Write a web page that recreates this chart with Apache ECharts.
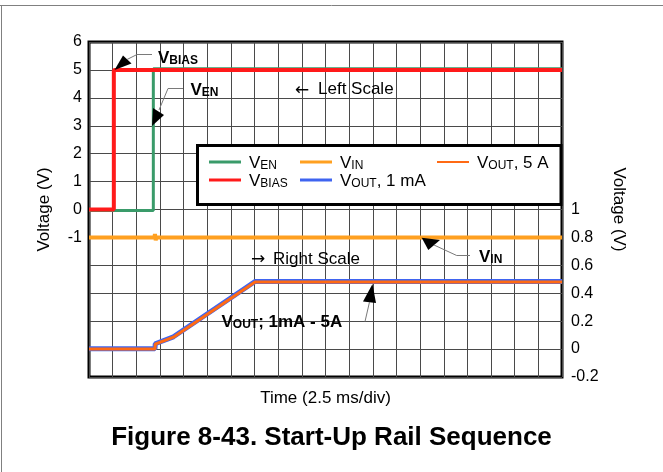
<!DOCTYPE html>
<html>
<head>
<meta charset="utf-8">
<title>Start-Up Rail Sequence</title>
<script src="https://cdn.jsdelivr.net/npm/echarts@6.0.0/dist/echarts.min.js"></script>
<style>
    html, body { margin: 0; padding: 0; background: #fff; }
    #main { width: 663px; height: 472px; }
</style>
</head>
<body>
<div id="main"></div>
<script>
// time is in scope divisions (2.5 ms/div), 20 divisions across
var biasT = [0, 1.05, 1.05, 20];
var biasV = [0, 0, 5, 5];
var enT = [0, 2.72, 2.72, 20];
var enV = [-0.04, -0.04, 5.04, 5.04];
var vinT = [0, 2.76, 2.79, 2.82, 2.85, 20];
var vinV = [-1, -1, -0.88, -1.1, -1, -1];
// VOUT is read on the right scale
var outT = [0, 2.79, 2.8, 3.57, 7.02, 20];
var out1V = [0.003, 0.003, 0.038, 0.088, 0.484, 0.484];
var out5V = [0, 0, 0.035, 0.085, 0.48, 0.48];

var leftLabels = [6, 5, 4, 3, 2, 1, 0, -1];
var rightLabels = [1, 0.8, 0.6, 0.4, 0.2, 0, -0.2];

var fontFam = 'Liberation Sans, Arial, sans-serif';

function pairs(t, v) {
    return t.map(function (x, i) { return [x, v[i]]; });
}

function showIf(list, v) {
    var r = Number(v.toFixed(1));
    return list.indexOf(r) >= 0 ? String(r) : '';
}

var legendNames = {
    'VEN': '{v0|V}{s|EN}',
    'VBIAS': '{v0|V}{s|BIAS}',
    'VIN': '{v0|V}{s|IN}',
    'VOUT1': '{v0|V}{s|OUT}{v|, 1 mA}',
    'VOUT5': '{v0|V}{s|OUT}{v|, 5 A}'
};

var legRich = {
    v0: { fontSize: 17, lineHeight: 20, verticalAlign: 'bottom', padding: [0, 0, 0, 3], color: '#000', fontFamily: fontFam },
    v: { fontSize: 17, lineHeight: 20, verticalAlign: 'bottom', color: '#000', fontFamily: fontFam },
    s: { fontSize: 12, lineHeight: 12, verticalAlign: 'bottom', color: '#000', fontFamily: fontFam }
};

var boldRich = {
    v: { fontSize: 17, lineHeight: 20, verticalAlign: 'bottom', fontWeight: 'bold', fill: '#000', fontFamily: fontFam },
    s: { fontSize: 12, lineHeight: 12, verticalAlign: 'bottom', fontWeight: 'bold', fill: '#000', fontFamily: fontFam }
};

function legend(names, left, h) {
    return {
        data: names,
        orient: 'vertical',
        left: left,
        top: 155,
        padding: 0,
        itemGap: 1,
        itemWidth: 32,
        itemHeight: h,
        icon: 'rect',
        selectedMode: false,
        formatter: function (n) { return legendNames[n]; },
        textStyle: { rich: legRich, fontSize: 17, fontFamily: fontFam, color: '#000' },
        z: 10
    };
}

function line(name, data, yIdx, color, width) {
    return {
        name: name,
        type: 'line',
        yAxisIndex: yIdx,
        data: data,
        showSymbol: false,
        lineStyle: { color: color, width: width },
        itemStyle: { color: color },
        silent: true
    };
}

function arrow(tip, b1, b2) {
    return { type: 'polygon', z: 20, shape: { points: [tip, b1, b2] }, style: { fill: '#000' } };
}

function leader(pts) {
    return { type: 'polyline', z: 20, shape: { points: pts }, style: { stroke: '#7a7a7a', lineWidth: 1, fill: null } };
}

function label(x, y, text, rich, weight, fam) {
    var st = { x: x, y: y, text: text, verticalAlign: 'middle', fill: '#000',
        fontSize: 17, fontFamily: fam || fontFam, fontWeight: weight || 'normal' };
    if (rich) st.rich = rich;
    return { type: 'text', z: 20, style: st };
}

var chart = echarts.init(document.getElementById('main'));

var option = {
    animation: false,
    backgroundColor: '#fff',
    title: {
        text: 'Figure 8-43. Start-Up Rail Sequence',
        left: 'center',
        top: 425,
        padding: 0,
        textStyle: { fontSize: 26, fontWeight: 'bold', color: '#000', fontFamily: fontFam }
    },
    grid: {
        left: 89, top: 42, right: 101, bottom: 95,
        show: true, borderColor: '#000', borderWidth: 3, backgroundColor: 'transparent'
    },
    legend: [
        legend(['VEN', 'VBIAS'], 209, 3),
        legend(['VIN', 'VOUT1'], 300, 3),
        legend(['VOUT5'], 437, 2)
    ],
    xAxis: {
        type: 'value', min: 0, max: 20, interval: 1,
        name: 'Time (2.5 ms/div)', nameLocation: 'middle', nameGap: 13,
        nameTextStyle: { fontSize: 17, color: '#000', fontFamily: fontFam },
        axisLine: { show: false }, axisTick: { show: false }, axisLabel: { show: false },
        splitLine: { lineStyle: { color: '#4a4a4a', width: 1 } }
    },
    yAxis: [{
        type: 'value', min: -6, max: 6, interval: 1, position: 'left',
        name: 'Voltage (V)', nameLocation: 'middle', nameGap: 36,
        nameTextStyle: { fontSize: 17, color: '#000', fontFamily: fontFam },
        axisLine: { show: false }, axisTick: { show: false },
        axisLabel: { margin: 7, fontSize: 16, color: '#000', fontFamily: fontFam,
            formatter: function (v) { return showIf(leftLabels, v); } },
        splitLine: { lineStyle: { color: '#4a4a4a', width: 1 } }
    }, {
        type: 'value', min: -0.2, max: 2.2, interval: 0.2, position: 'right',
        name: 'Voltage (V)', nameLocation: 'middle', nameGap: 48, nameRotate: -90,
        nameTextStyle: { fontSize: 17, color: '#000', fontFamily: fontFam },
        axisLine: { show: false }, axisTick: { show: false },
        axisLabel: { margin: 9, fontSize: 16, color: '#000', fontFamily: fontFam,
            formatter: function (v) { return showIf(rightLabels, v); } },
        splitLine: { show: false }
    }],
    series: [
        line('VEN', pairs(enT, enV), 0, '#3a9b6a', 3),
        line('VBIAS', pairs(biasT, biasV), 0, '#ff1a1a', 4),
        line('VIN', pairs(vinT, vinV), 0, '#ffa020', 4),
        line('VOUT1', pairs(outT, out1V), 1, '#3f64f0', 5),
        line('VOUT5', pairs(outT, out5V), 1, '#ff6a14', 3)
    ],
    graphic: [
        // page frame
        { type: 'line', z: 20, shape: { x1: 0, y1: 5.5, x2: 663, y2: 5.5 }, style: { stroke: '#808080', lineWidth: 1 } },
        { type: 'line', z: 20, shape: { x1: 1.5, y1: 5, x2: 1.5, y2: 472 }, style: { stroke: '#808080', lineWidth: 1 } },
        // legend box
        { type: 'rect', z: 5, shape: { x: 197.5, y: 145.5, width: 363.5, height: 59 },
          style: { fill: '#fff', stroke: '#000', lineWidth: 3 } },
        // VBIAS
        arrow([114.5, 70], [123, 55.5], [131.5, 63.5]),
        leader([[127, 59.5], [137, 54.5], [152, 54.5]]),
        label(158, 56.7, '{v|V}{s|BIAS}', boldRich, 'bold'),
        // VEN
        arrow([152, 126], [153, 108], [164, 115]),
        leader([[159, 110], [168, 88.5], [183, 88.5]]),
        label(190.5, 89, '{v|V}{s|EN}', boldRich, 'bold'),
        // VIN
        arrow([421.7, 237.7], [428.3, 250], [440, 240]),
        leader([[434, 245], [456.7, 255.5], [470, 255.5]]),
        label(479, 256, '{v|V}{s|IN}', boldRich, 'bold'),
        // VOUT
        arrow([372.5, 284], [363, 301.5], [376, 303]),
        leader([[369.5, 302], [365, 321.5]]),
        label(221.5, 321, '{v|V}{s|OUT}{v|; 1mA - 5A}', boldRich, 'bold'),
        // scale notes
        label(295, 91, '\u2190', null, 'normal', 'DejaVu Sans'),
        label(318, 89.5, 'Left Scale', null),
        label(251, 260, '\u2192', null, 'normal', 'DejaVu Sans'),
        label(273, 259, 'Right Scale', null)
    ]
};

chart.setOption(option);
</script>
</body>
</html>
